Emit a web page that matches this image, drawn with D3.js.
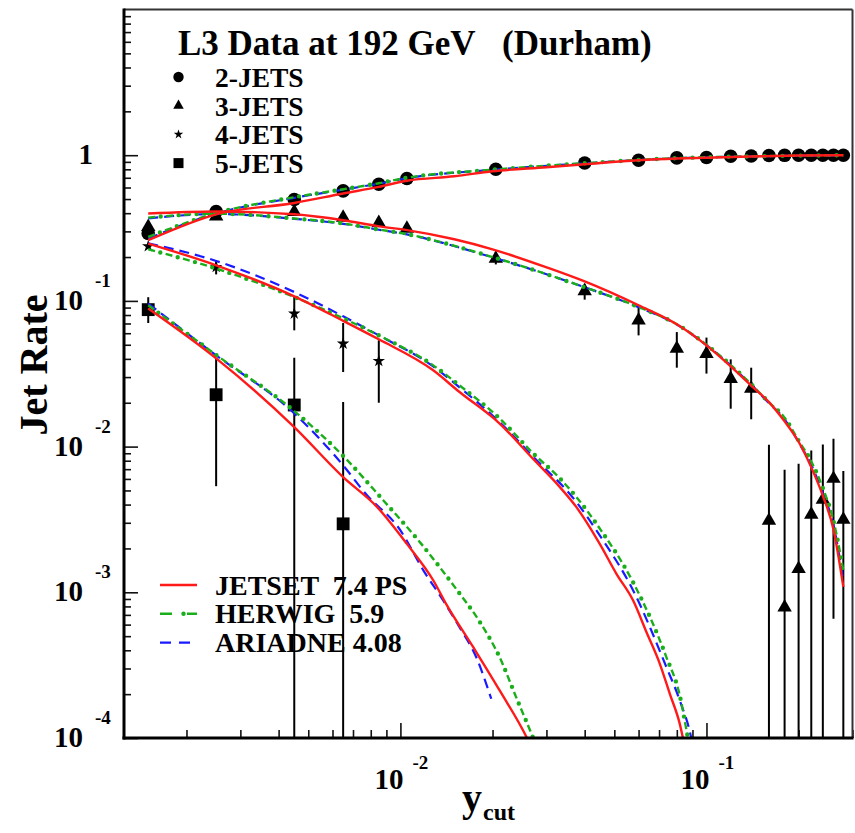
<!DOCTYPE html>
<html>
<head>
<meta charset="utf-8">
<script src="https://cdn.jsdelivr.net/npm/d3@7"></script>
<style>
  html, body { margin: 0; padding: 0; background: #fff; }
  svg text { font-family: "Liberation Serif", "Times New Roman", serif; font-weight: bold; fill: #000; white-space: pre; }
</style>
</head>
<body>
<svg id="chart" width="855" height="833"></svg>
<script>
// ---- measured jet rates (L3, 192 GeV, Durham algorithm) ----
const ycutBins = [0.0015, 0.0025, 0.0045, 0.0065, 0.0085, 0.0105, 0.0205, 0.04, 0.06, 0.08,
                  0.10, 0.12, 0.14, 0.16, 0.18, 0.20, 0.22, 0.24, 0.26, 0.28];

const rate2 = [0.290, 0.411, 0.496, 0.569, 0.632, 0.692, 0.801, 0.885, 0.924, 0.958,
               0.964, 0.984, 0.987, 0.995, 0.998, 0.999, 0.999, 1.0, 1.0, 1.0];

const rate3   = [0.322, 0.381, 0.408, 0.373, 0.343, 0.314, 0.195, 0.117, 0.0736, 0.047,
                 0.0434, 0.0292, 0.025, 0.00311, 0.00079, 0.00145, 0.00342, 0.00432, 0.00602, 0.00315];
const rate3Lo = [null, null, null, null, null, null, 0.178, 0.102, 0.058, 0.0348,
                 0.0317, 0.0182, 0.0154, 0, 0, 0, 0, 0, 0.000658, 0];
const rate3Hi = [null, null, null, null, null, null, 0.218, 0.131, 0.091, 0.0611,
                 0.056, 0.0397, 0.0348, 0.0103, 0.00693, 0.00763, 0.00942, 0.01035, 0.01133, 0.00679];

const rate4   = [0.237, 0.171, 0.0818, 0.0509, 0.0387];
const rate4Lo = [null, 0.152, 0.0628, 0.0325, 0.020];
const rate4Hi = [null, 0.190, 0.1064, 0.0705, 0.0537];

const rate5   = [0.0871, 0.0227, 0.0193, 0.00295];
const rate5Lo = [0.0705, 0.00535, 0, 0];
const rate5Hi = [0.106, 0.0402, 0.0408, 0.0202];

// ---- model predictions, [ycut, rate] ----
const jetset2  = [[0.0015,0.261],[0.0025,0.393],[0.0045,0.470],[0.0065,0.546],[0.0085,0.606],[0.0105,0.668],
                  [0.015,0.717],[0.02,0.776],[0.03,0.827],[0.04,0.867],[0.06,0.924],[0.08,0.949],[0.1,0.961],
                  [0.14,0.980],[0.2,0.995],[0.28,0.999]];
const herwig2  = [[0.0015,0.275],[0.0025,0.400],[0.0045,0.515],[0.0065,0.584],[0.0085,0.642],[0.0105,0.700],
                  [0.02,0.795],[0.04,0.881],[0.08,0.954],[0.14,0.982],[0.28,1.0]];
const ariadne2 = [[0.0015,0.268],[0.0025,0.398],[0.0045,0.510],[0.0065,0.580],[0.0085,0.638],[0.0105,0.696],
                  [0.02,0.793],[0.04,0.879],[0.08,0.953],[0.14,0.981],[0.28,0.999]];

const jetset3  = [[0.0015,0.398],[0.0025,0.411],[0.0045,0.393],[0.0065,0.358],[0.0085,0.325],[0.0105,0.306],
                  [0.015,0.265],[0.02,0.226],[0.03,0.170],[0.04,0.136],[0.06,0.0933],[0.08,0.0691],[0.1,0.0495],
                  [0.12,0.0355],[0.14,0.0262],[0.16,0.0202],[0.18,0.0149],[0.2,0.0108],[0.22,0.0072],
                  [0.24,0.0046],[0.26,0.0027],[0.28,0.00109]];
const herwig3  = [[0.0015,0.373],[0.0025,0.397],[0.0045,0.368],[0.0065,0.340],[0.0085,0.309],[0.0105,0.287],
                  [0.02,0.200],[0.04,0.124],[0.06,0.0908],[0.08,0.0691],[0.1,0.0500],[0.14,0.0268],
                  [0.16,0.0201],[0.18,0.0158],[0.2,0.0110],[0.22,0.0079],[0.24,0.0052],[0.26,0.0031],[0.28,0.00141]];
const ariadne3 = [[0.0015,0.369],[0.0025,0.395],[0.0045,0.366],[0.0065,0.338],[0.0085,0.308],[0.0105,0.286],
                  [0.02,0.199],[0.04,0.124],[0.06,0.0905],[0.08,0.0688],[0.1,0.0497],[0.14,0.0265],
                  [0.16,0.0199],[0.18,0.0154],[0.2,0.0107],[0.22,0.0075],[0.24,0.0048],[0.26,0.0029],[0.28,0.0012]];

const jetset4  = [[0.0015,0.2474],[0.0025,0.1756],[0.0045,0.1075],[0.0065,0.0730],[0.0085,0.0545],[0.0128,0.0334],
                  [0.0156,0.0237],[0.0211,0.0144],[0.0271,0.00826],[0.0332,0.00527],[0.0376,0.00384],[0.0448,0.00215],
                  [0.0508,0.00134],[0.0576,0.000878],[0.0637,0.000532],[0.0704,0.000323],[0.0759,0.000201],
                  [0.0818,0.000125],[0.0839,0.0000986],[0.087,0.00007]];
const herwig4  = [[0.0015,0.2262],[0.0025,0.1667],[0.0045,0.1064],[0.0065,0.0760],[0.0085,0.0580],[0.0128,0.0361],
                  [0.0156,0.0263],[0.0211,0.0156],[0.0271,0.00902],[0.0332,0.00605],[0.0376,0.0045],[0.0448,0.00274],
                  [0.0576,0.00117],[0.0740,0.000358],[0.0818,0.000196],[0.0871,0.0000986],[0.09,0.00007]];
const ariadne4 = [[0.0015,0.2487],[0.0025,0.188],[0.0045,0.1151],[0.0065,0.0784],[0.0085,0.0580],[0.0128,0.0355],
                  [0.0156,0.0255],[0.0211,0.01473],[0.0271,0.00856],[0.0376,0.00416],[0.0448,0.00246],
                  [0.0576,0.00103],[0.0740,0.000306],[0.0818,0.000181],[0.0893,0.0000986],[0.092,0.00007]];

const jetset5  = [[0.0015,0.0886],[0.0025,0.0403],[0.0045,0.0136],[0.0065,0.00617],[0.0084,0.00384],[0.0105,0.00215],
                  [0.0128,0.00121],[0.0141,0.000834],[0.0173,0.000420],[0.0211,0.000212],[0.0260,0.0000986],[0.028,0.00007]];
const herwig5  = [[0.0015,0.0933],[0.0025,0.0426],[0.0045,0.01753],[0.0065,0.00863],[0.0088,0.00427],[0.0117,0.00215],
                  [0.0152,0.001057],[0.0182,0.000623],[0.0211,0.000358],[0.0239,0.00019],[0.0271,0.000101],[0.029,0.00007]];
const ariadne5 = [[0.0015,0.0958],[0.0025,0.0423],[0.0045,0.0169],[0.0065,0.00743],[0.0077,0.00475],[0.0100,0.00266],
                  [0.0119,0.00141],[0.0138,0.000878],[0.0156,0.000576],[0.0177,0.000358],[0.0198,0.000186]];

// ---- axis decades and labels ----
const yMajor = [1e-4, 1e-3, 1e-2, 1e-1, 1];
const yMajorExp = ["-4", "-3", "-2", "-1", ""];
const xMajor = [1e-2, 1e-1];
const xMajorExp = ["-2", "-1"];

const titleText = "L3 Data at 192 GeV";
const titleAlgo = "(Durham)";
const dataLabels = ["2-JETS", "3-JETS", "4-JETS", "5-JETS"];
const modelLabels = ["JETSET  7.4 PS", "HERWIG  5.9", "ARIADNE 4.08"];

// ---- drawing ----
const svg = d3.select("#chart");
const frame = { left: 124, right: 852.5, top: 9.5, bottom: 738 };

const x = d3.scaleLog().domain([0.00125, 0.3]).range([frame.left, frame.right]);
const y = d3.scaleLog().domain([1e-4, 10]).range([frame.bottom, frame.top]);

const red = "#ff1a1a", green = "#1aaf1a", blue = "#1a1aff";

svg.append("clipPath").attr("id", "plotClip")
  .append("rect")
  .attr("x", frame.left).attr("y", frame.top)
  .attr("width", frame.right - frame.left).attr("height", frame.bottom - frame.top);

// ticks
const isMajor = v => Math.abs(Math.log10(v) - Math.round(Math.log10(v))) < 1e-9;
const xMinor = x.ticks().filter(v => !isMajor(v));
const yMinor = y.ticks().filter(v => !isMajor(v));

function styleTicks(g) {
  g.select(".domain").remove();
  g.selectAll(".tick line").attr("stroke", "#111").attr("stroke-width", 1.6);
}
svg.append("g").attr("transform", `translate(0,${frame.bottom})`)
  .call(d3.axisTop(x).tickValues(xMinor).tickSize(8).tickFormat(""))
  .call(styleTicks);
svg.append("g").attr("transform", `translate(0,${frame.bottom})`)
  .call(d3.axisTop(x).tickValues(xMajor).tickSize(15).tickFormat(""))
  .call(styleTicks);
svg.append("g").attr("transform", `translate(${frame.left},0)`)
  .call(d3.axisRight(y).tickValues(yMinor).tickSize(7).tickFormat(""))
  .call(styleTicks);
svg.append("g").attr("transform", `translate(${frame.left},0)`)
  .call(d3.axisRight(y).tickValues(yMajor).tickSize(14).tickFormat(""))
  .call(styleTicks);

// tick labels
yMajor.forEach((v, i) => {
  const py = y(v);
  if (yMajorExp[i] === "") {
    svg.append("text").attr("x", 93).attr("y", py + 9).attr("text-anchor", "end")
      .attr("font-size", 29).text("1");
  } else {
    svg.append("text").attr("x", 83).attr("y", py + 9).attr("text-anchor", "end")
      .attr("font-size", 29).text("10");
    svg.append("text").attr("x", 95).attr("y", py - 14)
      .attr("font-size", 19).text(yMajorExp[i]);
  }
});
xMajor.forEach((v, i) => {
  const px = x(v);
  svg.append("text").attr("x", px + 3).attr("y", 789).attr("text-anchor", "end")
    .attr("font-size", 29).text("10");
  svg.append("text").attr("x", px + 12).attr("y", 769)
    .attr("font-size", 19).text(xMajorExp[i]);
});

// axis titles
svg.append("text").attr("transform", "translate(47,365) rotate(-90)")
  .attr("text-anchor", "middle").attr("font-size", 40).text("Jet Rate");
const xt = svg.append("text").attr("x", 462).attr("y", 811).attr("font-size", 40);
xt.append("tspan").text("y");
xt.append("tspan").attr("x", 483).attr("y", 820).attr("font-size", 24).text("cut");

// data: error bars
const plotG = svg.append("g").attr("clip-path", "url(#plotClip)");
function errorBars(vals, lo, hi) {
  vals.forEach((v, i) => {
    if (lo[i] === null) return;
    const l = Math.max(lo[i], 1e-5);
    plotG.append("line")
      .attr("x1", x(ycutBins[i])).attr("x2", x(ycutBins[i]))
      .attr("y1", y(l)).attr("y2", y(hi[i]))
      .attr("stroke", "#000").attr("stroke-width", 2);
  });
}
errorBars(rate3, rate3Lo, rate3Hi);
errorBars(rate4, rate4Lo, rate4Hi);
errorBars(rate5, rate5Lo, rate5Hi);

// data: markers
function markers(vals, type, size) {
  const sym = d3.symbol().type(type).size(size);
  plotG.selectAll(null).data(vals).enter().append("path")
    .attr("transform", (d, i) => `translate(${x(ycutBins[i])},${y(d)})`)
    .attr("d", sym).attr("fill", "#000");
}
markers(rate2, d3.symbolCircle, 145);
markers(rate3, d3.symbolTriangle, 90);
markers(rate4, d3.symbolStar, 48);
markers(rate5, d3.symbolSquare, 165);

// model curves
const line = d3.line().x(d => x(d[0])).y(d => y(Math.max(d[1], 1e-5))).curve(d3.curveMonotoneX);
function ariadne(data) {
  plotG.append("path").attr("d", line(data)).attr("fill", "none")
    .attr("stroke", blue).attr("stroke-width", 2.2).attr("stroke-dasharray", "10 6");
}
function herwig(data) {
  plotG.append("path").attr("d", line(data)).attr("fill", "none")
    .attr("stroke", green).attr("stroke-width", 2.4).attr("stroke-dasharray", "7 11");
  plotG.append("path").attr("d", line(data)).attr("fill", "none")
    .attr("stroke", green).attr("stroke-width", 4.4).attr("stroke-linecap", "round")
    .attr("stroke-dasharray", "0 18").attr("stroke-dashoffset", -12.5);
}
function jetset(data) {
  plotG.append("path").attr("d", line(data)).attr("fill", "none")
    .attr("stroke", red).attr("stroke-width", 2.4);
}
[ariadne2, ariadne3, ariadne4, ariadne5].forEach(ariadne);
[herwig2, herwig3, herwig4, herwig5].forEach(herwig);
[jetset2, jetset3, jetset4, jetset5].forEach(jetset);

// frame
svg.append("line").attr("x1", frame.left).attr("x2", frame.right).attr("y1", frame.top).attr("y2", frame.top)
  .attr("stroke", "#333").attr("stroke-width", 2);
svg.append("line").attr("x1", frame.right).attr("x2", frame.right).attr("y1", frame.top).attr("y2", frame.bottom)
  .attr("stroke", "#333").attr("stroke-width", 2);
svg.append("line").attr("x1", frame.left).attr("x2", frame.left).attr("y1", frame.top - 1).attr("y2", frame.bottom + 1.5)
  .attr("stroke", "#000").attr("stroke-width", 3);
svg.append("line").attr("x1", frame.left - 1.5).attr("x2", frame.right + 1).attr("y1", frame.bottom).attr("y2", frame.bottom)
  .attr("stroke", "#000").attr("stroke-width", 3);

// title and data legend
svg.append("text").attr("x", 178).attr("y", 54.5).attr("font-size", 35).text(titleText);
svg.append("text").attr("x", 502).attr("y", 54.5).attr("font-size", 35).text(titleAlgo);

const legSyms = [[d3.symbolCircle, 85], [d3.symbolTriangle, 48], [d3.symbolStar, 28], [d3.symbolSquare, 100]];
dataLabels.forEach((lab, i) => {
  const by = 87 + i * 28.7;
  svg.append("path").attr("transform", `translate(178.5,${by - 10})`)
    .attr("d", d3.symbol().type(legSyms[i][0]).size(legSyms[i][1])).attr("fill", "#000");
  svg.append("text").attr("x", 215).attr("y", by).attr("font-size", 27.5).text(lab);
});

// model legend
const modelStyles = [
  { color: red, dash: null },
  { color: green, dash: "herwig" },
  { color: blue, dash: "11 8" }
];
modelLabels.forEach((lab, i) => {
  const ly = 585 + i * 28.8;
  const st = modelStyles[i];
  if (st.dash === "herwig") {
    svg.append("line").attr("x1", 160).attr("x2", 197).attr("y1", ly).attr("y2", ly)
      .attr("stroke", green).attr("stroke-width", 2.4).attr("stroke-dasharray", "12 15");
    svg.append("circle").attr("cx", 183.5).attr("cy", ly).attr("r", 2.2).attr("fill", green);
  } else {
    svg.append("line").attr("x1", 160).attr("x2", 197).attr("y1", ly).attr("y2", ly)
      .attr("stroke", st.color).attr("stroke-width", 2.4)
      .attr("stroke-dasharray", st.dash);
  }
  svg.append("text").attr("x", 215).attr("y", ly + 9.5).attr("font-size", 28).text(lab);
});
</script>
</body>
</html>
